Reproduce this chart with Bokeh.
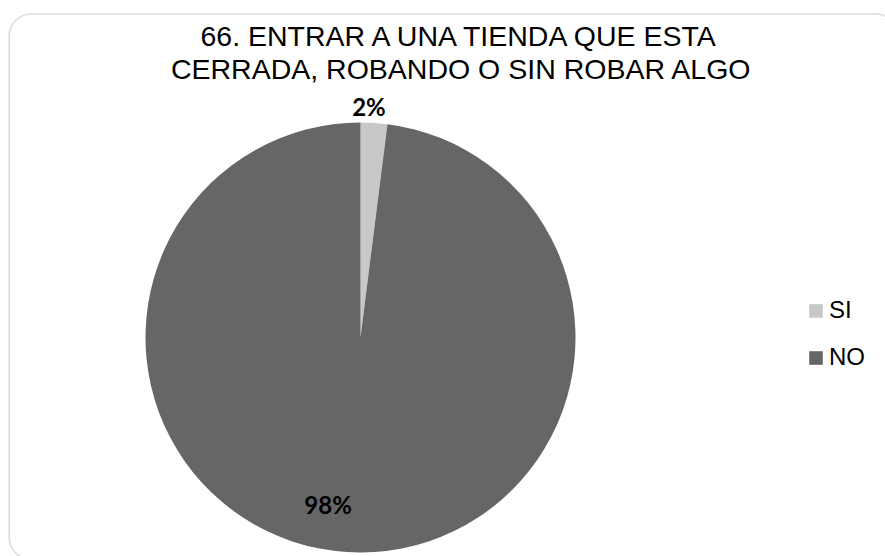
import math
from bokeh.plotting import figure
from bokeh.models import BoxAnnotation, Legend, LegendItem, ColumnDataSource
from bokeh.core.properties import value
from bokeh.embed import file_html
from bokeh.resources import INLINE

# ---- data ----
categories = ["SI", "NO"]
values = [2, 98]
colors = ["#c8c8c8", "#666666"]
title_lines = ["66. ENTRAR A UNA TIENDA QUE ESTA", "CERRADA, ROBANDO O SIN ROBAR ALGO"]

# ---- layout / style ----
W, H = 885, 556
CX, CY, R = 360, 219, 215
label_radius = [231, 170]
label_angle_shift = [1.5, -7.4]  # degrees

p = figure(width=W, height=H, x_range=(0, W), y_range=(0, H),
           output_backend="svg", toolbar_location=None, min_border=0,
           outline_line_color=None, background_fill_color="white",
           border_fill_color="white")
p.axis.visible = False
p.grid.visible = False

total = float(sum(values))
starts, ends, mids = [], [], []
cum = 0.0
for v in values:
    a0 = math.pi / 2 - 2 * math.pi * (cum + v) / total
    a1 = math.pi / 2 - 2 * math.pi * cum / total
    starts.append(a0)
    ends.append(a1)
    mids.append((a0 + a1) / 2)
    cum += v

src = ColumnDataSource(dict(x=[CX] * len(values), y=[CY] * len(values),
                            start=starts, end=ends, color=colors, cat=categories))
wr = p.wedge(x="x", y="y", radius=R, start_angle="start", end_angle="end",
             direction="anticlock", fill_color="color", line_color=None, source=src)

# percentage labels
lx, ly, lt = [], [], []
for i, v in enumerate(values):
    ang = mids[i] + math.radians(label_angle_shift[i])
    lx.append(CX + label_radius[i] * math.cos(ang))
    ly.append(CY + label_radius[i] * math.sin(ang))
    lt.append(f"{round(v / total * 100)}%")
p.text(x=lx, y=ly, text=lt, text_font=value("Lato"), text_font_style="bold",
       text_font_size="24px", text_align="center", text_baseline="middle",
       text_color="black")

# title
p.text(x=[461, 461], y=[521, 488], text=title_lines, text_font=value("Liberation Sans"),
       text_font_size="28.5px", text_align="center", text_baseline="alphabetic",
       text_color="black")

# rounded chart border
p.add_layout(BoxAnnotation(left=8.7, right=897, top=542.5, bottom=-3,
                           fill_color=None, fill_alpha=0, line_color="#8a8a8a",
                           line_width=1.6, border_radius=22))

legend = Legend(items=[LegendItem(label=c, renderers=[wr], index=i) for i, c in enumerate(categories)],
                location=(807, 185), orientation="vertical",
                glyph_width=17, glyph_height=17, label_height=26, spacing=19,
                padding=0, margin=0, border_line_color=None, background_fill_alpha=0,
                label_standoff=5, label_text_font="Liberation Sans",
                label_text_font_size="24px", label_text_color="black")
p.add_layout(legend)

open("out.html", "w").write(file_html(p, INLINE))
